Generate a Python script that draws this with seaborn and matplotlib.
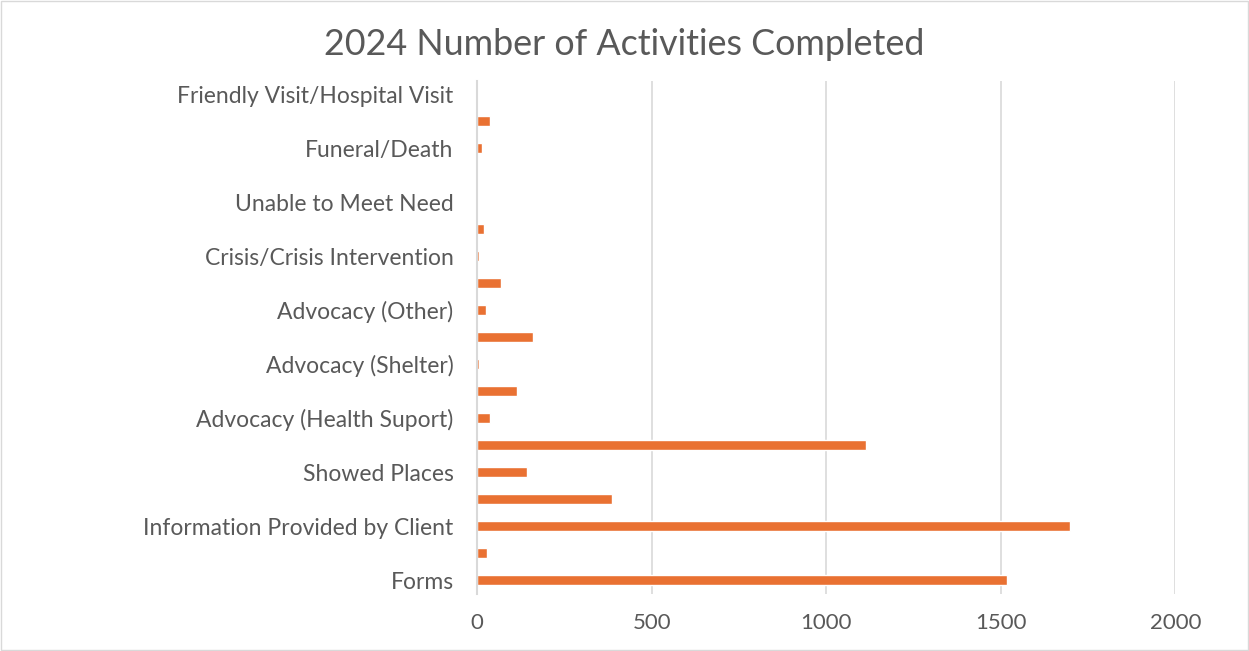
import matplotlib
matplotlib.use('Agg')
import matplotlib.pyplot as plt
import seaborn as sns
from matplotlib.patches import Rectangle

# categories listed top to bottom, as drawn
categories = ['Friendly Visit/Hospital Visit', 'Unlabeled 1', 'Funeral/Death', 'Unlabeled 2',
              'Unable to Meet Need', 'Unlabeled 3', 'Crisis/Crisis Intervention', 'Unlabeled 4',
              'Advocacy (Other)', 'Unlabeled 5', 'Advocacy (Shelter)', 'Unlabeled 6',
              'Advocacy (Health Suport)', 'Unlabeled 7', 'Showed Places', 'Unlabeled 8',
              'Information Provided by Client', 'Unlabeled 9', 'Forms']
values = [0, 38, 15, 0, 0, 20, 6, 69, 26, 160, 5, 115, 37, 1115, 143, 387, 1699, 27, 1519]
# Excel skips every other label
shown_labels = [c if i % 2 == 0 else '' for i, c in enumerate(categories)]
xticks = [0, 500, 1000, 1500, 2000]

sns.set_style('white')
plt.rcParams['font.family'] = ['Lato', 'DejaVu Sans']
txt = '#595959'

fig = plt.figure(figsize=(12.49, 6.51), dpi=100)
ax = fig.add_axes([0.382, 0.088, 0.559, 0.788])

sns.barplot(x=values, y=categories, order=categories, orient='h',
            color='#E97132', saturation=1, width=0.38, ax=ax)

ax.set_xlim(0, 2000)
ax.set_xticks(xticks)
ax.set_xticklabels([str(t) for t in xticks], fontsize=16, color=txt)
ax.set_yticklabels(shown_labels, fontsize=16.5, color=txt)
ax.tick_params(axis='y', length=0, pad=17)
ax.tick_params(axis='x', length=0, pad=14)
ax.grid(axis='x', color='#D9D9D9', linewidth=1.2)
ax.set_axisbelow(True)
for s in ['top', 'right', 'bottom']:
    ax.spines[s].set_visible(False)
ax.spines['left'].set_color('#D9D9D9')
ax.spines['left'].set_linewidth(1.5)
ax.set_xlabel('')
ax.set_ylabel('')

fig.text(0.5, 0.932, '2024 Number of Activities Completed', ha='center', va='center',
         fontsize=25.8, color=txt)
fig.patches.append(Rectangle((0.001, 0.001), 0.998, 0.998, transform=fig.transFigure,
                             fill=False, edgecolor='#D9D9D9', linewidth=1))

fig.savefig('out.png', dpi=100)
